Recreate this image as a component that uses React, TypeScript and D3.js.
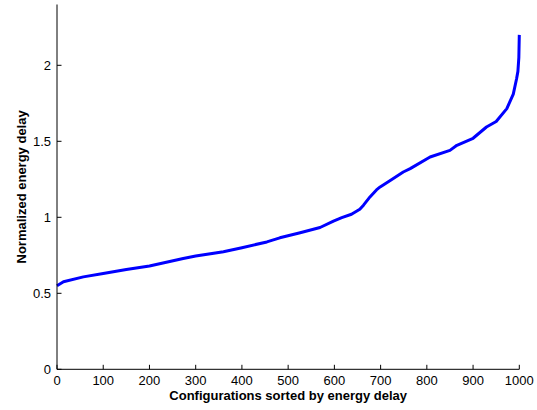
import * as d3 from "d3"

// sorted configurations (rank) and their normalized energy delay
const rank = [0, 14, 57, 100, 150, 200, 273, 300, 360, 400, 454, 482, 526, 569, 598, 616, 637, 655, 663, 677, 691, 699, 725, 749, 764, 807, 850, 865, 900, 929, 950, 973, 987, 994, 997, 999, 1000]
const energyDelay = [0.55, 0.576, 0.608, 0.63, 0.657, 0.68, 0.729, 0.745, 0.773, 0.8, 0.838, 0.865, 0.898, 0.933, 0.975, 0.998, 1.02, 1.053, 1.08, 1.134, 1.18, 1.2, 1.25, 1.298, 1.32, 1.397, 1.44, 1.474, 1.52, 1.594, 1.63, 1.715, 1.81, 1.91, 1.96, 2.05, 2.2]
const xTicks = [0, 100, 200, 300, 400, 500, 600, 700, 800, 900, 1000]
const yTicks = [0, 0.5, 1, 1.5, 2]

const width = 537
const height = 410
const margin = { top: 4.5, right: 17.7, bottom: 40.7, left: 57 }

export default function App() {
  const x = d3.scaleLinear().domain([0, 1000]).range([margin.left, width - margin.right])
  const y = d3.scaleLinear().domain([0, 2.4]).range([height - margin.bottom, margin.top])

  const points = rank.map((r, i) => [r, energyDelay[i]] as [number, number])
  const line = d3.line<[number, number]>()
    .x(d => x(d[0]))
    .y(d => y(d[1]))

  const font = "'Liberation Sans', Arial, Helvetica, sans-serif"
  const x0 = x(0)
  const y0 = y(0)

  return (
    <svg width={width} height={height} style={{ position: "absolute", left: 0, top: 0, background: "#fff" }} fontFamily={font}>
      {/* curve */}
      <path d={line(points) ?? ""} fill="none" stroke="#0000ff" strokeWidth={3} strokeLinejoin="round" />

      {/* axes */}
      <line x1={x0} x2={x0} y1={y(2.4)} y2={y0} stroke="#000" strokeWidth={1} />
      <line x1={x0} x2={x(1000)} y1={y0} y2={y0} stroke="#000" strokeWidth={1} />

      {xTicks.map(t => (
        <g key={"x" + t}>
          <line x1={x(t)} x2={x(t)} y1={y0} y2={y0 - 4.5} stroke="#000" />
          <text x={x(t)} y={y0 + 16} textAnchor="middle" fontSize={13}>{t}</text>
        </g>
      ))}
      {yTicks.map(t => (
        <g key={"y" + t}>
          <line x1={x0} x2={x0 + 4.5} y1={y(t)} y2={y(t)} stroke="#000" />
          <text x={x0 - 6} y={y(t) + 4.5} textAnchor="end" fontSize={13}>{t}</text>
        </g>
      ))}

      <text x={(x0 + x(1000)) / 2} y={400} textAnchor="middle" fontSize={13} fontWeight="bold">
        Configurations sorted by energy delay
      </text>
      <text transform={`translate(25.5,${(y(2.4) + y0) / 2}) rotate(-90)`} textAnchor="middle" fontSize={13} fontWeight="bold">
        Normalized energy delay
      </text>
    </svg>
  )
}
